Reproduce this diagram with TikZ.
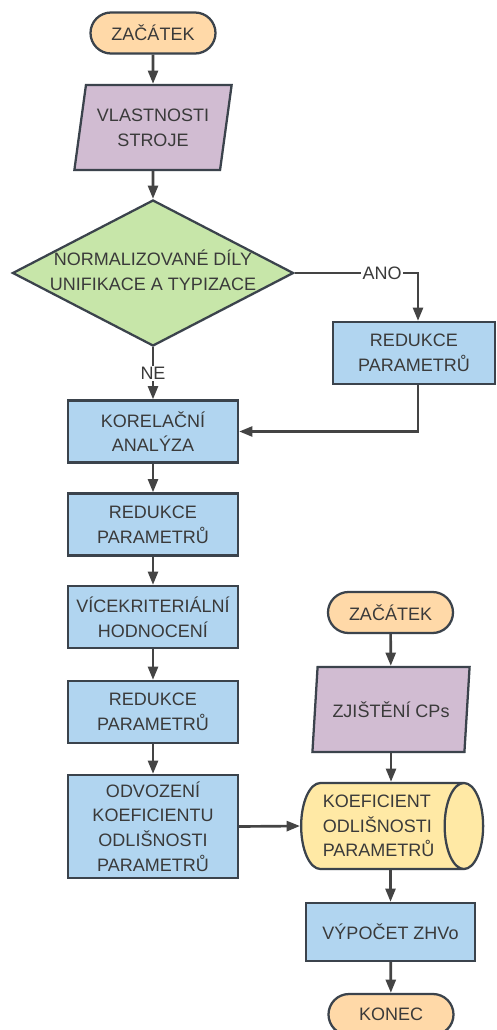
\documentclass[tikz,border=0pt]{standalone}
\usepackage{fontspec}
\setmainfont{Liberation Sans}
\usetikzlibrary{shapes.geometric,shapes.misc,arrows.meta,shadows}
\definecolor{bordc}{HTML}{3B434C}
\definecolor{txtc}{HTML}{3A3A3A}
\definecolor{termc}{HTML}{FFD9A8}
\definecolor{parc}{HTML}{D1BCD2}
\definecolor{diac}{HTML}{C7E6A9}
\definecolor{boxc}{HTML}{B1D5F0}
\definecolor{cylc}{HTML}{FFE9A5}
\definecolor{linec}{HTML}{444444}
\begin{document}
\begin{tikzpicture}[x=0.75pt,y=-0.75pt,
 txt/.style={text=txtc, inner sep=0pt, font=\fontsize{13.5pt}{18.5pt}\selectfont, align=center},
 base/.style={txt, draw=bordc, line width=1.7pt, drop shadow={shadow xshift=0.6pt, shadow yshift=-0.9pt, opacity=0.18}},
 term/.style={base, rounded rectangle, fill=termc, minimum width=93.75pt, minimum height=30.75pt},
 par/.style={base, trapezium, trapezium left angle=75.5, trapezium right angle=104.5, trapezium stretches=true, fill=parc, minimum width=118.5pt, minimum height=63.75pt},
 dia/.style={base, diamond, fill=diac, minimum width=210.75pt, minimum height=109.5pt, aspect=1.92},
 proc/.style={base, rectangle, fill=boxc, minimum width=127.5pt, minimum height=46.5pt},
 cyl/.style={base, cylinder, shape aspect=0.62, fill=cylc, minimum height=136.5pt, minimum width=64.5pt, align=left},
 arr/.style={draw=linec, line width=2pt, -{Triangle[length=10pt,width=7.5pt]}},
 lbl/.style={txt, fill=white, inner sep=1pt}]
\useasboundingbox (0,0) rectangle (496,1030);
% left column
\node[term] (t1) at (153,33) {ZAČÁTEK};
\node[par] (p1) at (153,127.5) {VLASTNOSTI\\STROJE};
\node[dia] (d) at (153,273) {};
\node[txt] (dt) at (153,270) {NORMALIZOVANÉ DÍLY\\UNIFIKACE A TYPIZACE};
\node[proc, minimum width=121.5pt] (r1) at (414,353) {REDUKCE\\PARAMETRŮ};
\node[proc] (k) at (153,431.5) {KORELAČNÍ\\ANALÝZA};
\node[proc] (r2) at (153,524.5) {REDUKCE\\PARAMETRŮ};
\node[proc] (v) at (153,617) {VÍCEKRITERIÁLNÍ\\HODNOCENÍ};
\node[proc] (r3) at (153,712) {REDUKCE\\PARAMETRŮ};
\node[proc, minimum height=77.25pt] (o) at (153,826.5) {ODVOZENÍ\\KOEFICIENTU\\ODLIŠNOSTI\\PARAMETRŮ};
% right column
\node[term] (t2) at (390.5,612.5) {ZAČÁTEK};
\node[par] (p2) at (391,709.5) {ZJIŠTĚNÍ CPs};
\node[cyl, anchor=west] (cy) at (300,826) {KOEFICIENT\\ODLIŠNOSTI\\PARAMETRŮ\rule{5pt}{0pt}};
\node[proc, minimum width=126.75pt, minimum height=43.5pt] (vy) at (390.5,932) {VÝPOČET ZHVo};
\node[term] (t3) at (391,1014.5) {KONEC};
\coordinate (c1) at (418,273);
% connectors
\draw[arr] (t1) -- (p1);
\draw[arr] (p1) -- (d);
\draw[arr] (d.east) -- node[lbl, pos=0.71] {ANO} (c1) -- (r1.north -| c1);
\draw[arr] (d.south) -- node[lbl] {NE} (k.north);
\draw[arr] (r1.south -| c1) |- (k.east);
\draw[arr] (k) -- (r2);
\draw[arr] (r2) -- (v);
\draw[arr] (v) -- (r3);
\draw[arr] (r3) -- (o);
\draw[arr] (o.east) -- (cy.west);
\draw[arr] (t2) -- (p2);
\draw[arr] (p2.south) -- (p2.south |- cy.north);
\draw[arr] (vy.north |- cy.south) -- (vy.north);
\draw[arr] (vy) -- (t3);
\end{tikzpicture}
\end{document}
